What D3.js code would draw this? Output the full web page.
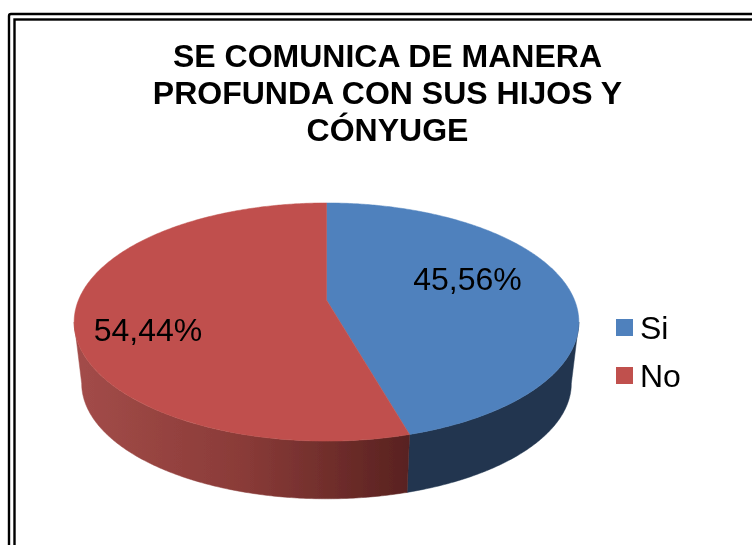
<!DOCTYPE html>
<html>
<head>
<meta charset="utf-8">
<script src="https://cdn.jsdelivr.net/npm/d3@7"></script>
<style>
html, body { margin: 0; padding: 0; background: #fff; overflow: hidden; }
text { font-family: "Liberation Sans", Arial, sans-serif; fill: #000; }
</style>
</head>
<body>
<div id="chart"></div>
<script>
//DATA
let categories = ['Si', 'No'];
let values = [45.56, 54.44];
let valueLabels = ['45,56%', '54,44%'];
let titleLines = ['SE COMUNICA DE MANERA', 'PROFUNDA CON SUS HIJOS Y', 'CÓNYUGE'];
let colors = ['#4f81bd', '#c0504d'];

//VARIABLES
let width = 752, height = 545;
let k = 0.185; //perspective of the tilted disc
let top_disc = {cx: 326.5, y0: 300, rx: 248, ry: 115};
let bottom_disc = {cx: 326.5, y0: 362, rx: 240.6, ry: 111.5};

let svg = d3.select('#chart').append('svg')
    .attr('width', width)
    .attr('height', height)
    .style('display', 'block');

init();

//FUNCTIONS
function project(disc, a) {
    let u = Math.sin(a), v = -Math.cos(a);
    return [disc.cx + disc.rx * u / (1 - k * v), disc.y0 + disc.ry * v / (1 - k * v)];
}

function arcPoints(disc, a0, a1) {
    let n = Math.max(2, Math.ceil(Math.abs(a1 - a0) / 0.01));
    return d3.range(n + 1).map(function(i) {
        return project(disc, a0 + (a1 - a0) * i / n);
    });
}

function init() {
    let line = d3.line();
    let defs = svg.append('defs');

    //Soft edge, the original is a scaled up bitmap
    defs.append('filter').attr('id', 'soft')
        .append('feGaussianBlur').attr('stdDeviation', 0.6);
    defs.append('filter').attr('id', 'softText')
        .append('feGaussianBlur').attr('stdDeviation', 0.35);

    let redSide = defs.append('linearGradient')
        .attr('id', 'redSide')
        .attr('gradientUnits', 'userSpaceOnUse')
        .attr('x1', 76).attr('x2', 408).attr('y1', 0).attr('y2', 0);
    redSide.append('stop').attr('offset', '0%').attr('stop-color', '#a34c49');
    redSide.append('stop').attr('offset', '50%').attr('stop-color', '#8a3b38');
    redSide.append('stop').attr('offset', '100%').attr('stop-color', '#592220');

    //Frame
    svg.append('rect')
        .attr('x', 9).attr('y', 14)
        .attr('width', width + 20).attr('height', height + 20)
        .attr('rx', 2)
        .attr('fill', 'none').attr('stroke', '#000').attr('stroke-width', 2.4);
    svg.append('rect')
        .attr('x', 14.5).attr('y', 19.5)
        .attr('width', width + 20).attr('height', height + 20)
        .attr('fill', 'none').attr('stroke', '#000').attr('stroke-width', 2.4);

    //Title
    svg.append('g').attr('filter', 'url(#softText)').selectAll('text')
        .data(titleLines)
        .enter().append('text')
        .attr('x', 387.5)
        .attr('y', function(d, i) { return 66.5 + i * 37; })
        .attr('text-anchor', 'middle')
        .attr('font-size', 32)
        .attr('font-weight', 'bold')
        .text(function(d) { return d; });

    //Pie
    let arcs = d3.pie().sort(null)(values);
    let pieG = svg.append('g').attr('filter', 'url(#soft)');
    let silhouette = Math.acos(-k); //widest point of the disc

    //Side walls
    let blueEnd = arcs[0].endAngle;
    let wallBlue = arcPoints(top_disc, silhouette, blueEnd)
        .concat(arcPoints(bottom_disc, blueEnd, silhouette));
    let wallRed = arcPoints(top_disc, blueEnd, 2 * Math.PI - silhouette)
        .concat(arcPoints(bottom_disc, 2 * Math.PI - silhouette, blueEnd));

    pieG.append('path')
        .attr('d', line(wallBlue) + 'Z')
        .attr('fill', '#20344f')
        .attr('stroke', '#20344f')
        .attr('stroke-width', 0.5);
    pieG.append('path')
        .attr('d', line(wallRed) + 'Z')
        .attr('fill', 'url(#redSide)')
        .attr('stroke', 'url(#redSide)')
        .attr('stroke-width', 0.5);

    //Top slices
    pieG.selectAll('.slice')
        .data(arcs)
        .enter().append('path')
        .attr('class', 'slice')
        .attr('fill', function(d, i) { return colors[i]; })
        .attr('stroke', function(d, i) { return colors[i]; })
        .attr('stroke-width', 0.5)
        .attr('d', function(d) {
            let apex = [top_disc.cx, top_disc.y0];
            return line([apex].concat(arcPoints(top_disc, d.startAngle, d.endAngle))) + 'Z';
        });

    //Value labels
    let labelPos = [[467.5, 290], [148, 341]];
    svg.append('g').attr('filter', 'url(#softText)').selectAll('text')
        .data(valueLabels)
        .enter().append('text')
        .attr('x', function(d, i) { return labelPos[i][0]; })
        .attr('y', function(d, i) { return labelPos[i][1]; })
        .attr('text-anchor', 'middle')
        .attr('font-size', 32)
        .text(function(d) { return d; });

    //Legend
    let y = d3.scalePoint().domain(categories).range([328, 376]);
    let legend = svg.append('g').selectAll('g')
        .data(categories)
        .enter().append('g')
        .attr('transform', function(d) { return 'translate(0,' + y(d) + ')'; });
    legend.append('rect')
        .attr('x', 616).attr('y', -9)
        .attr('width', 17).attr('height', 17)
        .attr('fill', function(d, i) { return colors[i]; });
    legend.append('text')
        .attr('x', 640).attr('y', 10.5)
        .attr('font-size', 32)
        .attr('filter', 'url(#softText)')
        .text(function(d) { return d; });
}
</script>
</body>
</html>
